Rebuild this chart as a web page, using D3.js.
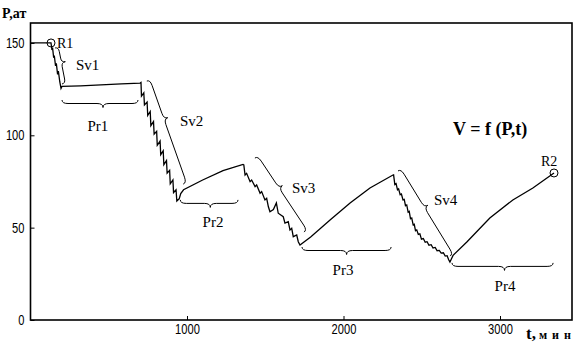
<!DOCTYPE html>
<html>
<head>
<meta charset="utf-8">
<script src="https://cdn.jsdelivr.net/npm/d3@7"></script>
<style>
  body { margin: 0; background: #fff; }
  .tick text { font-family: "Liberation Sans", Arial, sans-serif; font-size: 14px; fill: #000; }
  .tick line { stroke: #000; }
  .lbl { font-family: "Liberation Serif", "Times New Roman", serif; font-size: 15px; fill: #000; }
  .ser { font-family: "Liberation Serif", "Times New Roman", serif; font-weight: bold; fill: #000; }
</style>
</head>
<body>
<div id="chart"></div>
<script>
// Оси
const xTicks = [1000, 2000, 3000]
const yTicks = [0, 50, 100, 150]

// Кривая давления P(t), по участкам
const approach = [[0, 150], [131, 150]]
const sv1 = [[137, 146.2], [141, 147.5], [148, 142], [152, 143.2], [160, 137.6], [165, 139], [173, 133], [178, 134.8], [187, 129], [195, 125.4]]
const pr1 = [[201, 126.5], [320, 126.8], [450, 127.3], [580, 127.8], [700, 128.3]]
const sv2 = [[706, 128.6], [709, 121.2], [724, 123], [728, 116.4], [745, 118], [749, 110.8], [765, 112.9], [769, 105.2], [786, 107.4], [790, 100.6], [806, 102.1], [810, 94.6], [828, 96.9], [832, 89.5], [848, 91.6], [852, 84.1], [869, 86.3], [873, 79.5], [889, 81], [893, 73.7], [910, 75.8], [914, 69], [930, 70.5], [935, 64.4], [945, 65.2]]
const pr2 = [[950, 65.6], [960, 68.4], [978, 70.5], [1100, 75.8], [1230, 80.9], [1358, 84.2]]
const sv3 = [[1363, 84], [1371, 78.5], [1381, 79.4], [1403, 74.9], [1413, 75.8], [1435, 72.2], [1445, 73.1], [1467, 68.6], [1477, 69.5], [1498, 65], [1509, 65.9], [1520, 61.3], [1530, 58.6], [1552, 59.8], [1571, 63.4], [1583, 57.8], [1615, 55.9], [1626, 52.4], [1647, 53.2], [1658, 48.7], [1669, 49.6], [1679, 45.1], [1701, 46], [1711, 42.4], [1722, 40.6]]
const pr3 = [[1790, 44.9], [1914, 54.1], [2042, 63.3], [2169, 71.5], [2316, 78.5]]
const sv4 = [[2320, 78.6], [2328, 73.3], [2336, 73.8], [2345, 70.5], [2352, 71], [2362, 67.8], [2370, 68.2], [2380, 65], [2388, 65.3], [2396, 61.9], [2404, 62.3], [2413, 58.4], [2420, 58.8], [2428, 54.8], [2436, 55.2], [2445, 51.5], [2452, 51.8], [2460, 48.4], [2468, 48.8], [2478, 46.3], [2488, 46.6], [2498, 43.8], [2510, 44.1], [2522, 42.1], [2534, 42.4], [2546, 40.5], [2560, 40.8], [2572, 39], [2586, 39.3], [2598, 37.5], [2612, 37.7], [2624, 36.2], [2638, 36.4], [2650, 34.6], [2662, 34.8], [2672, 32.6], [2680, 31.4]]
const pr4 = [[2690, 33.2], [2700, 35], [2788, 42.2], [2935, 55.2], [3082, 65], [3210, 71.5], [3345, 79.6]]

// Точки R1, R2
const marks = [{ name: "R1", t: 131, p: 150, lt: 169, lp: 147.3 }, { name: "R2", t: 3345, p: 79.6, lt: 3262, lp: 83.4 }]

// Фигурные скобки: концы (t,P), положение острия, подпись
const braces = [
  { name: "Sv1", a: [201, 127.8], b: [157, 147.3], f: 0.58, lt: 291, lp: 135.3, anchor: "start" },
  { name: "Pr1", a: [201, 119.1], b: [687, 119.1], f: 0.54, lt: 431, lp: 102.3, anchor: "middle" },
  { name: "Sv2", a: [976, 73.6], b: [743, 129.4], f: 0.62, lt: 955, lp: 105, anchor: "start" },
  { name: "Pr2", a: [957, 65], b: [1326, 65], f: 0.52, lt: 1166, lp: 50.4, anchor: "middle" },
  { name: "Sv3", a: [1748, 47.6], b: [1434, 87.7], f: 0.57, lt: 1671, lp: 68.8, anchor: "start" },
  { name: "Pr3", a: [1735, 39.5], b: [2304, 39.5], f: 0.5, lt: 1997, lp: 24.4, anchor: "middle" },
  { name: "Sv4", a: [2681, 34.6], b: [2348, 80.7], f: 0.55, lt: 2578, lp: 62.3, anchor: "start" },
  { name: "Pr4", a: [2693, 30.9], b: [3339, 30.9], f: 0.52, lt: 3032, lp: 15.7, anchor: "middle" }
]

const width = 580, height = 351
const margin = { top: 23, right: 8, bottom: 31, left: 30.5 }

const svg = d3.select('#chart')
    .append('svg')
    .attr("width", width)
    .attr("height", height)

const x = d3.scaleLinear().domain([0, 3460]).range([margin.left, width - margin.right])
const y = d3.scaleLinear().domain([0, 160.8]).range([height - margin.bottom, margin.top])

// рамка
svg.append("rect")
    .attr("x", x(0)).attr("y", y(160.8))
    .attr("width", x(3460) - x(0)).attr("height", y(0) - y(160.8))
    .attr("fill", "none").attr("stroke", "#000").attr("stroke-width", 1.6)

const xAxis = svg.append('g')
    .attr("transform", "translate(0," + y(0) + ")")
    .call(d3.axisBottom(x).tickValues(xTicks).tickFormat(d3.format("d")).tickSizeInner(-4).tickSizeOuter(0).tickPadding(4))
xAxis.select(".domain").remove()

const yAxis = svg.append('g')
    .attr("transform", "translate(" + x(0) + ",0)")
    .call(d3.axisLeft(y).tickValues(yTicks).tickFormat(d3.format("d")).tickSizeInner(-4).tickSizeOuter(0).tickPadding(6))
yAxis.select(".domain").remove()

// узкие цифры, как в оригинале
svg.selectAll(".tick text")
    .attr("textLength", function () { return this.textContent.length * 6.2 })
    .attr("lengthAdjust", "spacingAndGlyphs")

// кривая
const all = [].concat(approach, sv1, pr1, sv2, pr2, sv3, pr3, sv4, pr4)
const line = d3.line().x(d => x(d[0])).y(d => y(d[1]))
svg.append("path")
    .datum(all)
    .attr("d", line)
    .attr("fill", "none")
    .attr("stroke", "#000")
    .attr("stroke-width", 1.3)
    .attr("stroke-linejoin", "miter")

// скобки
function bracePath(a, b, f, h, d) {
    const dx = b[0] - a[0], dy = b[1] - a[1], L = Math.hypot(dx, dy)
    const ux = dx / L, uy = dy / L, nx = -uy, ny = ux
    const r = Math.min(6, L * 0.12)
    const m = L * f
    const pt = (s, o) => (a[0] + ux * s + nx * o).toFixed(1) + "," + (a[1] + uy * s + ny * o).toFixed(1)
    return "M" + pt(0, 0) + "Q" + pt(0, h) + " " + pt(r, h) + "L" + pt(m - r, h) +
        "Q" + pt(m, h) + " " + pt(m, d) + "Q" + pt(m, h) + " " + pt(m + r, h) +
        "L" + pt(L - r, h) + "Q" + pt(L, h) + " " + pt(L, 0)
}

svg.append("g").selectAll("path")
    .data(braces)
    .join("path")
    .attr("d", d => bracePath([x(d.a[0]), y(d.a[1])], [x(d.b[0]), y(d.b[1])], d.f, 3.5, 7.5))
    .attr("fill", "none")
    .attr("stroke", "#000")
    .attr("stroke-width", 1)

svg.append("g").selectAll("text")
    .data(braces)
    .join("text")
    .attr("class", "lbl")
    .attr("x", d => x(d.lt))
    .attr("y", d => y(d.lp))
    .attr("text-anchor", d => d.anchor)
    .text(d => d.name)

// R1, R2
svg.append("g").selectAll("circle")
    .data(marks)
    .join("circle")
    .attr("cx", d => x(d.t)).attr("cy", d => y(d.p)).attr("r", 4)
    .attr("fill", "none").attr("stroke", "#000").attr("stroke-width", 1)

svg.append("g").selectAll("text")
    .data(marks)
    .join("text")
    .attr("class", "lbl")
    .style("font-size", "14px")
    .attr("x", d => x(d.lt)).attr("y", d => y(d.lp))
    .text(d => d.name)

// подписи осей
svg.append("text")
    .attr("class", "ser")
    .attr("x", 2).attr("y", 18)
    .style("font-size", "14px")
    .text("P,ат")

const tl = svg.append("text")
    .attr("class", "ser")
    .attr("x", 526).attr("y", 339)
tl.append("tspan").style("font-size", "17px").text("t,")
tl.append("tspan").attr("dx", 3).style("font-size", "12px").attr("textLength", 32).text("мин")

svg.append("text")
    .attr("class", "ser")
    .attr("x", 453).attr("y", 135)
    .style("font-size", "18px")
    .text("V = f (P,t)")
</script>
</body>
</html>
